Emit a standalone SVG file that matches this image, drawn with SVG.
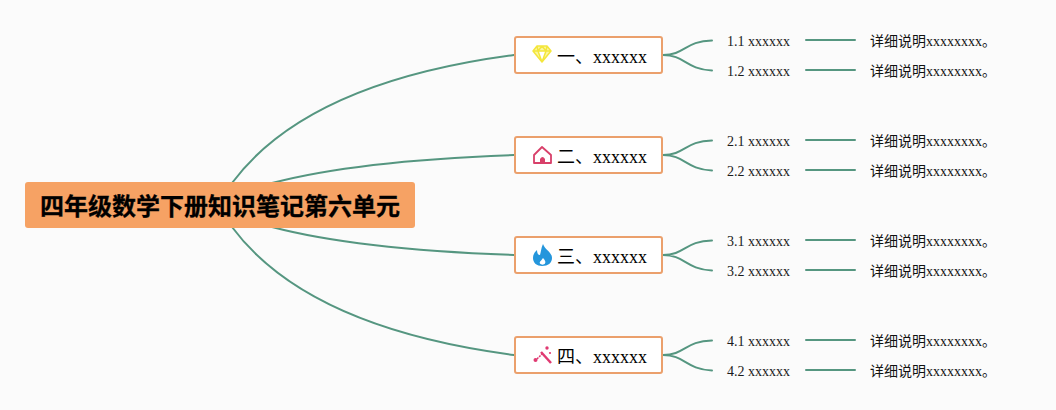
<svg xmlns="http://www.w3.org/2000/svg" width="1056" height="410" viewBox="0 0 1056 410">
<style>
.c{fill:none;stroke:#559680;stroke-width:2;stroke-linecap:round}
.t{fill:#fff;stroke:#eba06c;stroke-width:2}
.h{font:18px "Liberation Serif","Noto Sans CJK SC",serif;fill:#000}
.s{font:14px "Liberation Serif","Noto Sans CJK SC",serif;fill:#1a1a1a}
.d{font:14px "Liberation Serif","Noto Sans CJK SC",serif;fill:#111}
.r{font:bold 24px "Noto Sans CJK SC","Liberation Sans",sans-serif;fill:#000;stroke:#000;stroke-width:.3}
</style>
<rect width="1056" height="410" fill="#fbfbfb"/>
<g id="connectors">
<path class="c" d="M232 183C290 105 400 70 514 55"/>
<path class="c" d="M272 183C340 165 430 158 514 155"/>
<path class="c" d="M272 227C340 245 430 252 514 255"/>
<path class="c" d="M232 227C290 305 400 340 514 355"/>
<path class="c" d="M663 55C685 55 685 41 712 40.500M663 55C685 55 685 69 712 70.500"/>
<path class="c" d="M663 155C685 155 685 141 712 140.500M663 155C685 155 685 169 712 170.500"/>
<path class="c" d="M663 255C685 255 685 241 712 240.500M663 255C685 255 685 269 712 270.500"/>
<path class="c" d="M663 355C685 355 685 341 712 340.500M663 355C685 355 685 369 712 370.500"/>
<path class="c" d="M806 40H855M806 70H855M806 140H855M806 170H855M806 240H855M806 270H855M806 340H855M806 370H855"/>
</g>
<g id="root"><rect x="25" y="182" width="390" height="46" rx="3" fill="#f6a264"/><text class="r" x="40" y="215">四年级数学下册知识笔记第六单元</text></g>
<g id="n1"><rect class="t" x="515" y="37" width="147" height="36" rx="2"/>
<path d="M537 46H547L551 51L542 62L533 51ZM533 51H551M538 51L542 62L546 51M537 46L538 51M547 46L546 51M542 46L538 51M542 46L546 51" fill="#fbf6a0" stroke="#f4e63c" stroke-width="1.500" stroke-linejoin="round"/>
<text class="h" x="557" y="63">一、xxxxxx</text></g>
<g id="n2"><rect class="t" x="515" y="137" width="147" height="36" rx="2"/>
<path d="M534 155L542 147L551 155V163H534Z" fill="#fff" stroke="#d8406a" stroke-width="1.800" stroke-linejoin="round"/><path d="M540 163V159Q542.500 155 545 159V163Z" fill="#d8406a"/>
<text class="h" x="557" y="163">二、xxxxxx</text></g>
<g id="n3"><rect class="t" x="515" y="237" width="147" height="36" rx="2"/>
<path d="M543 244C545 250 552 252 552 258C552 263 548 266 542 266C537 266 533 263 533 258C533 254 535 252 537 250C537 253 538 255 540 255C541 252 541 248 543 244Z" fill="#2496dc"/><path d="M543 258C545 260 546 262 545 263.500C544 265 541 265 540 263.500C539 262 541 261 543 258Z" fill="#fff"/>
<text class="h" x="557" y="263">三、xxxxxx</text></g>
<g id="n4"><rect class="t" x="515" y="337" width="147" height="36" rx="2"/>
<path d="M541 352L551 363" stroke="#e03a72" stroke-width="2.500" fill="none"/><path d="M537 359L542 354" stroke="#e03a72" stroke-width="1.500" stroke-dasharray="2 1" fill="none"/><circle cx="535.500" cy="360" r="2" fill="#e03a72"/><circle cx="547" cy="348" r="1.700" fill="#e03a72"/><circle cx="550" cy="353" r="1.100" fill="#e03a72"/>
<text class="h" x="557" y="363">四、xxxxxx</text></g>
<g id="s11"><text class="s" x="727" y="46">1.1 xxxxxx</text></g><g id="d11"><text class="d" x="870" y="46">详细说明xxxxxxxx。</text></g>
<g id="s12"><text class="s" x="727" y="76">1.2 xxxxxx</text></g><g id="d12"><text class="d" x="870" y="76">详细说明xxxxxxxx。</text></g>
<g id="s21"><text class="s" x="727" y="146">2.1 xxxxxx</text></g><g id="d21"><text class="d" x="870" y="146">详细说明xxxxxxxx。</text></g>
<g id="s22"><text class="s" x="727" y="176">2.2 xxxxxx</text></g><g id="d22"><text class="d" x="870" y="176">详细说明xxxxxxxx。</text></g>
<g id="s31"><text class="s" x="727" y="246">3.1 xxxxxx</text></g><g id="d31"><text class="d" x="870" y="246">详细说明xxxxxxxx。</text></g>
<g id="s32"><text class="s" x="727" y="276">3.2 xxxxxx</text></g><g id="d32"><text class="d" x="870" y="276">详细说明xxxxxxxx。</text></g>
<g id="s41"><text class="s" x="727" y="346">4.1 xxxxxx</text></g><g id="d41"><text class="d" x="870" y="346">详细说明xxxxxxxx。</text></g>
<g id="s42"><text class="s" x="727" y="376">4.2 xxxxxx</text></g><g id="d42"><text class="d" x="870" y="376">详细说明xxxxxxxx。</text></g>
</svg>
